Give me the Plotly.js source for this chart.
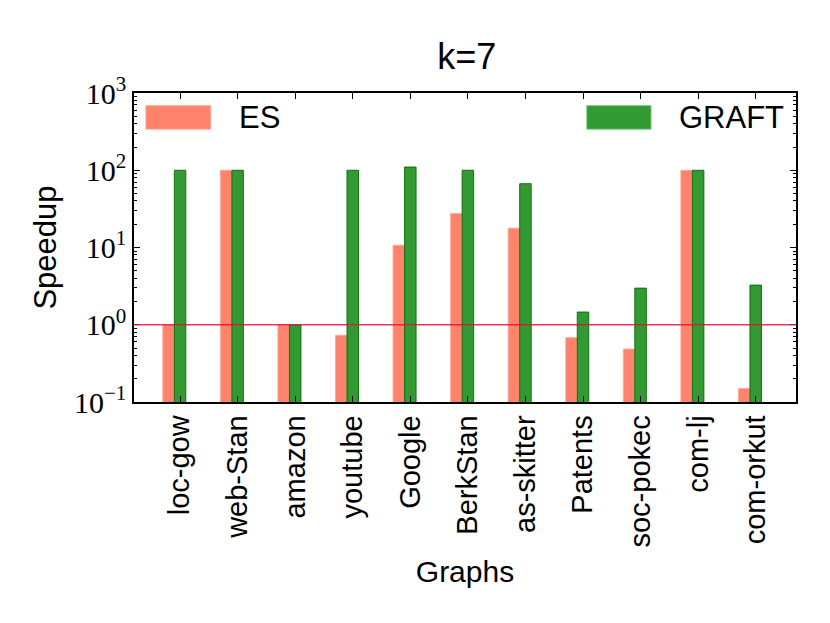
<!DOCTYPE html>
<html>
<head>
<meta charset="utf-8">
<script src="https://cdn.plot.ly/plotly-3.0.1.min.js"></script>
<style>
  html, body { margin: 0; padding: 0; background: #fff; }
  #chart { width: 830px; height: 623px; }
</style>
</head>
<body>
<div id="chart"></div>
<script>
// speedup per graph, k=7
const graphs = ["loc-gow", "web-Stan", "amazon", "youtube", "Google", "BerkStan",
  "as-skitter", "Patents", "soc-pokec", "com-lj", "com-orkut"];
const esSpeedup = [1, 100, 1, 0.73, 10.7, 27.5, 17.8, 0.68, 0.485, 100, 0.149];
const graftSpeedup = [100, 100, 1, 100, 110, 100, 67, 1.46, 2.98, 100, 3.26];
const baseline = 1;

const yTickVals = [0.1, 1, 10, 100, 1000];
const yTickText = ["10<sup>\u22121</sup>", "10<sup>0</sup>", "10<sup>1</sup>", "10<sup>2</sup>", "10<sup>3</sup>"];

const esFill = "rgba(255, 99, 71, 0.8)";
const graftFill = "rgba(0, 128, 0, 0.8)";
const sans = "Liberation Sans, Arial, sans-serif";

// minor ticks 2..9 in each decade
const minorVals = [];
for (let d = -1; d < 3; d++) {
  for (let m = 2; m <= 9; m++) minorVals.push(m * Math.pow(10, d));
}

const data = [
  {
    type: "bar",
    name: "ES",
    x: graphs,
    y: esSpeedup,
    offset: -0.3,
    width: 0.2,
    marker: { color: esFill, line: { color: "rgba(255, 170, 150, 0.9)", width: 1 } },
    showlegend: false,
  },
  {
    type: "bar",
    name: "GRAFT",
    x: graphs,
    y: graftSpeedup,
    offset: -0.1,
    width: 0.2,
    marker: { color: graftFill, line: { color: "rgba(0, 110, 0, 0.9)", width: 1 } },
    showlegend: false,
  },
];

const layout = {
  width: 830,
  height: 623,
  margin: { l: 134, r: 34, t: 93, b: 221 },
  paper_bgcolor: "#fff",
  plot_bgcolor: "#fff",
  barmode: "overlay",
  title: {
    text: "k=7",
    font: { family: sans, size: 36, color: "#000" },
    x: 0.5625, xanchor: "center",
    y: 0.91, yanchor: "middle",
  },
  xaxis: {
    type: "category",
    range: [-0.8, 10.7],
    tickangle: -90,
    tickfont: { family: sans, size: 29, color: "#000" },
    ticks: "inside",
    ticklen: 6,
    tickwidth: 1,
    tickcolor: "#000",
    showline: true,
    linecolor: "#000",
    linewidth: 1.5,
    mirror: "allticks",
    showgrid: false,
    zeroline: false,
    title: { text: "Graphs", font: { family: sans, size: 30, color: "#000" }, standoff: 14 },
  },
  yaxis: {
    type: "log",
    range: [-1, 3],
    tickmode: "array",
    tickvals: yTickVals,
    ticktext: yTickText,
    tickfont: { family: "Liberation Serif, DejaVu Serif, serif", size: 30, color: "#000" },
    ticks: "inside",
    ticklen: 6,
    tickwidth: 1,
    tickcolor: "#000",
    minor: { tickmode: "array", tickvals: minorVals, ticks: "inside", ticklen: 3, tickcolor: "#000", showgrid: false },
    showline: true,
    linecolor: "#000",
    linewidth: 1.5,
    mirror: "allticks",
    showgrid: false,
    zeroline: false,
    title: { text: "Speedup", font: { family: sans, size: 31, color: "#000" }, standoff: 8 },
  },
  shapes: [
    // speedup = 1 reference line
    { type: "line", xref: "paper", x0: 0, x1: 1, yref: "y", y0: baseline, y1: baseline,
      line: { color: "rgba(220, 20, 60, 0.85)", width: 1.5 } },
    // legend patches
    { type: "rect", xref: "paper", yref: "paper", x0: 0.018, x1: 0.116, y0: 0.883, y1: 0.959,
      fillcolor: esFill, line: { color: "rgba(255, 170, 150, 0.9)", width: 1 } },
    { type: "rect", xref: "paper", yref: "paper", x0: 0.684, x1: 0.781, y0: 0.883, y1: 0.959,
      fillcolor: graftFill, line: { color: "rgba(120, 200, 120, 0.9)", width: 1 } },
  ],
  annotations: [
    { text: "ES", xref: "paper", yref: "paper", x: 0.156, y: 0.921, xanchor: "left", yanchor: "middle",
      showarrow: false, font: { family: sans, size: 31, color: "#000" } },
    { text: "GRAFT", xref: "paper", yref: "paper", x: 0.820, y: 0.921, xanchor: "left", yanchor: "middle",
      showarrow: false, font: { family: sans, size: 31, color: "#000" } },
  ],
};

Plotly.newPlot("chart", data, layout, { displayModeBar: false });
</script>
</body>
</html>
